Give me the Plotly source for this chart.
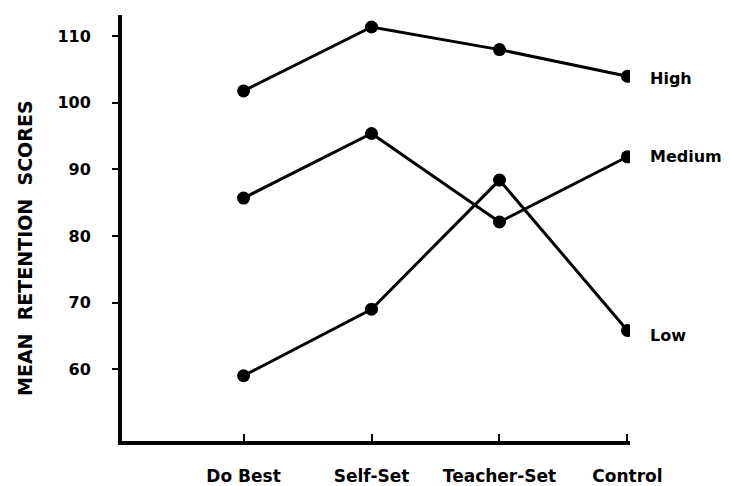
import plotly.graph_objects as go

# goal-setting conditions on the x axis
conditions = ["Do Best", "Self-Set", "Teacher-Set", "Control"]

# mean retention scores by ability group
high = [101.8, 111.4, 108.0, 104.0]
medium = [85.7, 95.4, 82.1, 91.9]
low = [59.0, 69.0, 88.4, 65.8]

y_ticks = [60, 70, 80, 90, 100, 110]

groups = [("High", high, -2), ("Medium", medium, 0), ("Low", low, -5)]

FONT = "DejaVu Sans"

fig = go.Figure()
for name, vals, yshift in groups:
    fig.add_trace(go.Scatter(
        x=conditions, y=vals, mode="lines+markers", name=name,
        line=dict(color="black", width=3),
        marker=dict(color="black", size=13),
        showlegend=False,
    ))
    # label at the end of each line
    fig.add_annotation(
        x=conditions[-1], y=vals[-1], text="<b>%s</b>" % name,
        showarrow=False, xanchor="left", xshift=21, yshift=yshift,
        font=dict(family=FONT, size=16, color="black"),
    )

fig.add_annotation(
    text="<b>MEAN  RETENTION  SCORES</b>", textangle=-90,
    xref="paper", yref="paper", x=-0.191, y=0.453,
    xanchor="center", yanchor="middle",
    showarrow=False, font=dict(family=FONT, size=19, color="black"),
)

fig.update_layout(
    width=730, height=486,
    margin=dict(l=114, r=108, t=7, b=53),
    plot_bgcolor="white", paper_bgcolor="white",
    font=dict(family=FONT, size=16, color="black"),
)
fig.update_xaxes(
    type="category", range=[-0.95, 3.02],
    tickvals=conditions, ticktext=["<b>%s</b>" % c for c in conditions],
    showgrid=False, zeroline=False,
    showline=True, linecolor="black", linewidth=4,
    ticks="inside", ticklen=7, tickwidth=2, tickcolor="black",
    tickfont=dict(family=FONT, size=17, color="black"),
    ticklabelstandoff=17,
)
fig.update_yaxes(
    range=[49.2, 113.2], tickvals=y_ticks,
    ticktext=["<b>%d</b>" % v for v in y_ticks],
    showgrid=False, zeroline=False,
    showline=True, linecolor="black", linewidth=4,
    ticks="outside", ticklen=6, tickwidth=2, tickcolor="black",
    tickfont=dict(family=FONT, size=16, color="black"),
    ticklabelstandoff=18,
)

fig.write_html("out.html", config={"displayModeBar": False})
